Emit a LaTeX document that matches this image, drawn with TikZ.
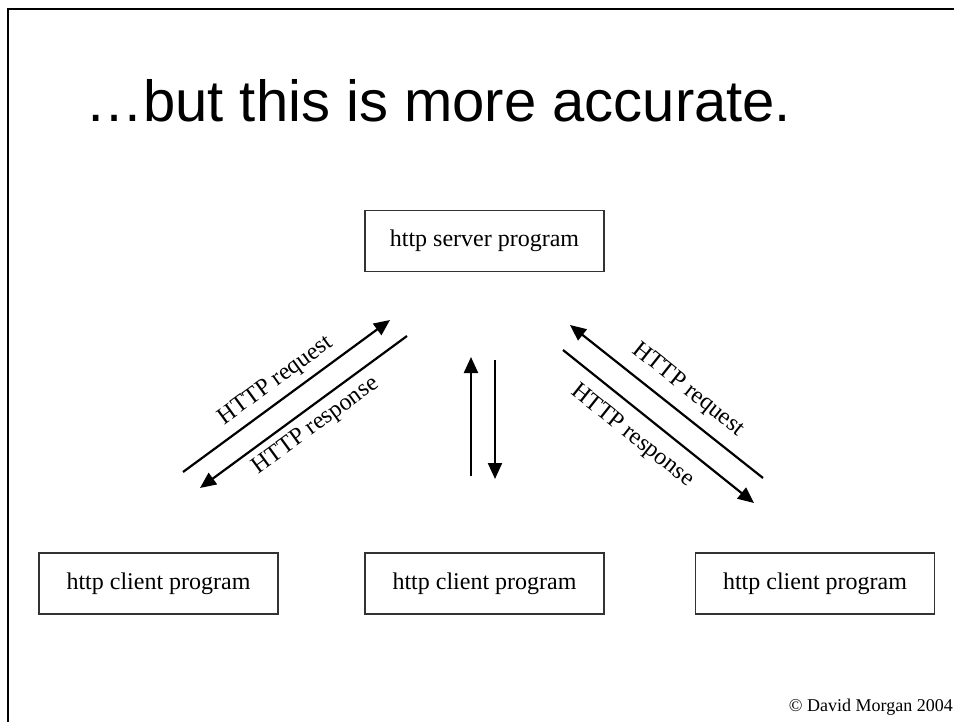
\documentclass[tikz,border=0pt]{standalone}
\usepackage{fontspec}
\setmainfont{Liberation Serif}
\newfontfamily\titlefont{Liberation Sans}
\usetikzlibrary{arrows.meta}
\tikzset{
  prog/.style={draw=black!80, line width=1.5pt, minimum width=239pt, minimum height=61pt, inner sep=0pt, font=\fontsize{24}{28}\selectfont},
  msg/.style={line width=2.2pt, -{Triangle[length=16pt,width=14pt]}},
  msglabel/.style={inner sep=0pt, font=\fontsize{24}{28}\selectfont}
}
\begin{document}
\begin{tikzpicture}[x=1pt, y=-1pt]
\useasboundingbox (0,0) rectangle (954,722);
\draw[line width=2.5pt] (954,9) -- (8,9) -- (8,722);
\node[anchor=base west, inner sep=0pt, font=\titlefont\fontsize{58}{66}\selectfont] (title) at (85,122) {\char"2026 but this is more accurate.};

\node[prog] (server) at (484.5,241) {http server program};
\node[prog] (clientL) at (158.5,583.5) {http client program};
\node[prog] (clientM) at (484.5,583.5) {http client program};
\node[prog] (clientR) at (815,583.5) {http client program};

% left pair
\coordinate (reqLa) at (183,472);
\coordinate (reqLb) at (390,320);
\coordinate (resLa) at (407,336);
\coordinate (resLb) at (200,488);
\draw[msg] (reqLa) -- (reqLb);
\draw[msg] (resLa) -- (resLb);
\node[msglabel, rotate=36] (reqL) at (276,381) {HTTP request};
\node[msglabel, rotate=36] (resL) at (316,426) {HTTP response};

% middle pair
\coordinate (reqMa) at (471,476);
\coordinate (reqMb) at (471,357);
\coordinate (resMa) at (495,360);
\coordinate (resMb) at (495,479);
\draw[msg] (reqMa) -- (reqMb);
\draw[msg] (resMa) -- (resMb);

% right pair
\coordinate (reqRa) at (763,478);
\coordinate (reqRb) at (570,325);
\coordinate (resRa) at (563,350);
\coordinate (resRb) at (754,503);
\draw[msg] (reqRa) -- (reqRb);
\draw[msg] (resRa) -- (resRb);
\node[msglabel, rotate=-38.5] (reqR) at (688,390) {HTTP request};
\node[msglabel, rotate=-38.5] (resR) at (632,436) {HTTP response};

\node[anchor=base east, inner sep=0pt, font=\fontsize{18}{22}\selectfont] (copy) at (953,711) {\textcopyright{} David Morgan 2004};
\end{tikzpicture}
\end{document}
